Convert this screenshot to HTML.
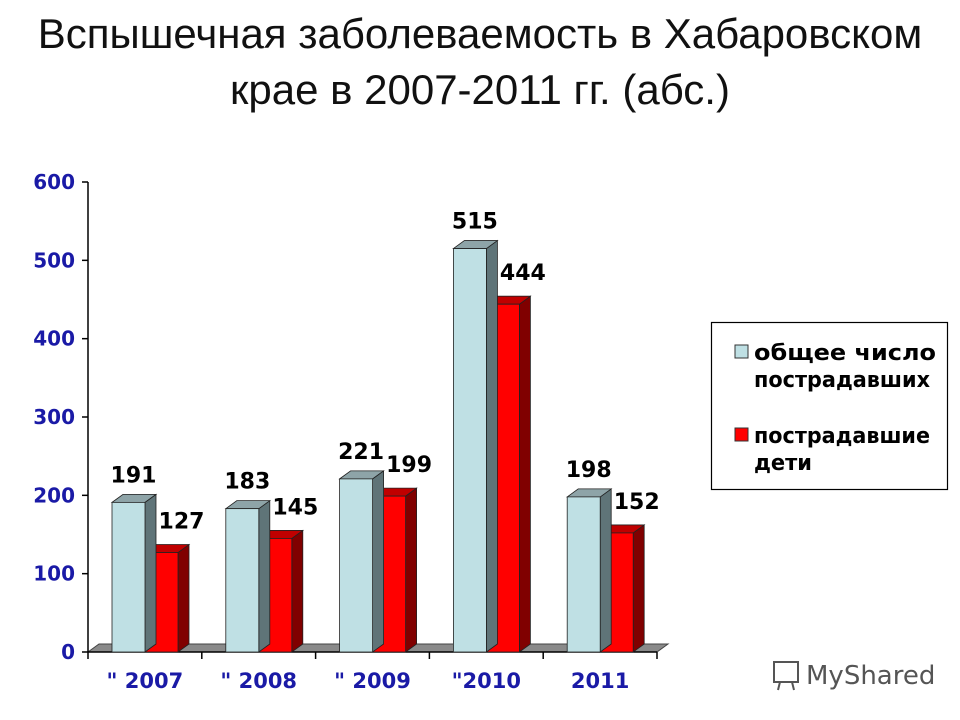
<!DOCTYPE html>
<html><head><meta charset="utf-8">
<style>
html,body{margin:0;padding:0;background:#fff;}
body{width:960px;height:720px;overflow:hidden;position:relative;font-family:"Liberation Sans","DejaVu Sans",sans-serif;}
#title{position:absolute;left:0;top:6px;width:960px;text-align:center;font-size:42px;line-height:56px;color:#111;}
</style></head>
<body>
<div id="title">Вспышечная заболеваемость в Хабаровском<br>крае в 2007-2011 гг. (абс.)</div>
<svg id="chart" width="960" height="720" style="position:absolute;left:0;top:0" xmlns="http://www.w3.org/2000/svg"></svg>
<script>
const categories=['" 2007','" 2008','" 2009','"2010','2011'];
const totalVictims=[191,183,221,515,198];
const childVictims=[127,145,199,444,152];
const yTicks=[0,100,200,300,400,500,600];
const seriesNames=['общее число пострадавших','пострадавшие дети'];

const NS='http://www.w3.org/2000/svg';
const svg=document.getElementById('chart');
const X0=88,X1=657,Y0=652,Y600=182;
const y=v=>Y0-(v/600)*(Y0-Y600);
const catW=(X1-X0)/categories.length;
const DX=11,DY=8,BW=33;
function mk(tag,attrs,parent){const e=document.createElementNS(NS,tag);for(const k in attrs)e.setAttribute(k,attrs[k]);(parent||svg).appendChild(e);return e;}

const floor=mk('polygon',{points:`${X0},${Y0} ${X1},${Y0} ${X1+DX},${Y0-DY} ${X0+DX},${Y0-DY}`,fill:'#8a8a8a',stroke:'#444','stroke-width':1});


const ya=mk('line',{x1:X0,y1:Y600,x2:X0,y2:Y0,stroke:'#000','stroke-width':1.5});


const xa=mk('line',{x1:X0,y1:Y0,x2:X1,y2:Y0,stroke:'#000','stroke-width':1.5});


yTicks.forEach(t=>{
  mk('line',{x1:X0-6,y1:y(t),x2:X0,y2:y(t),stroke:'#000','stroke-width':1.5});
  const tx=mk('text',{x:75,y:y(t)+7,'text-anchor':'end','font-size':20,'font-weight':'bold',fill:'#1a1aa6','font-family':'DejaVu Sans, sans-serif'});
  tx.textContent=t;
  
  
});
for(let i=0;i<=categories.length;i++){
  const xx=X0+i*catW;
  mk('line',{x1:xx,y1:Y0,x2:xx,y2:Y0+7,stroke:'#000','stroke-width':1.5});
}
function bar(x,v,front,side,top,name){
  const g=mk('g',{});
  
  
  const t=y(v);
  mk('polygon',{points:`${x+BW},${t} ${x+BW+DX},${t-DY} ${x+BW+DX},${Y0-DY} ${x+BW},${Y0}`,fill:side,stroke:'#222','stroke-width':0.8},g);
  mk('polygon',{points:`${x},${t} ${x+DX},${t-DY} ${x+BW+DX},${t-DY} ${x+BW},${t}`,fill:top,stroke:'#222','stroke-width':0.8},g);
  mk('rect',{x:x,y:t,width:BW,height:Y0-t,fill:front,stroke:'#222','stroke-width':0.8},g);
}
categories.forEach((c,i)=>{
  const cx=X0+i*catW;
  const lx=cx+24, rx=lx+BW;
  bar(rx,childVictims[i],'#ff0000','#800000','#c00000','bar-children-'+i);
  bar(lx,totalVictims[i],'#bfe0e4','#5f7478','#8ea4a8','bar-total-'+i);
  const l1=mk('text',{x:lx+BW/2+5,y:y(totalVictims[i])-20,'text-anchor':'middle','font-size':22,'font-weight':'bold',fill:'#000','font-family':'DejaVu Sans, sans-serif'});
  l1.textContent=totalVictims[i];
  
  
  const l2=mk('text',{x:rx+BW/2+20,y:y(childVictims[i])-24,'text-anchor':'middle','font-size':22,'font-weight':'bold',fill:'#000','font-family':'DejaVu Sans, sans-serif'});
  l2.textContent=childVictims[i];
  
  
  const xl=mk('text',{x:cx+catW/2,y:688,'text-anchor':'middle','font-size':21,'font-weight':'bold',fill:'#1a1aa6','font-family':'DejaVu Sans, sans-serif'});
  xl.textContent=c;
  
  
});
const lg=mk('g',{});


mk('rect',{x:711.5,y:322.5,width:236,height:167,fill:'#fff',stroke:'#000','stroke-width':1.2},lg);
mk('rect',{x:735,y:345,width:13,height:13,fill:'#bfe0e4',stroke:'#333'},lg);
mk('rect',{x:735,y:428,width:13,height:13,fill:'#ff0000',stroke:'#333'},lg);
[['общее число',360],['пострадавших',387],['пострадавшие',443],['дети',470]].forEach(([t,yy])=>{
  const e=mk('text',{x:754,y:yy,'font-size':22,'font-weight':'bold',fill:'#000','font-family':'DejaVu Sans, sans-serif',textLength:t.length>6?(t==='общее число'?182:176):58,lengthAdjust:'spacingAndGlyphs'},lg);
  e.textContent=t;
  
  
});
const wm=mk('text',{x:806,y:684,'font-size':26,fill:'#555','font-family':'DejaVu Sans, sans-serif'});
wm.textContent='MyShared';


const ic=mk('g',{stroke:'#555','stroke-width':2,fill:'none'});


mk('rect',{x:774,y:662,width:24,height:20},ic);
mk('line',{x1:780,y1:682,x2:778,y2:690},ic);
mk('line',{x1:792,y1:682,x2:794,y2:690},ic);
</script>
</body></html>
